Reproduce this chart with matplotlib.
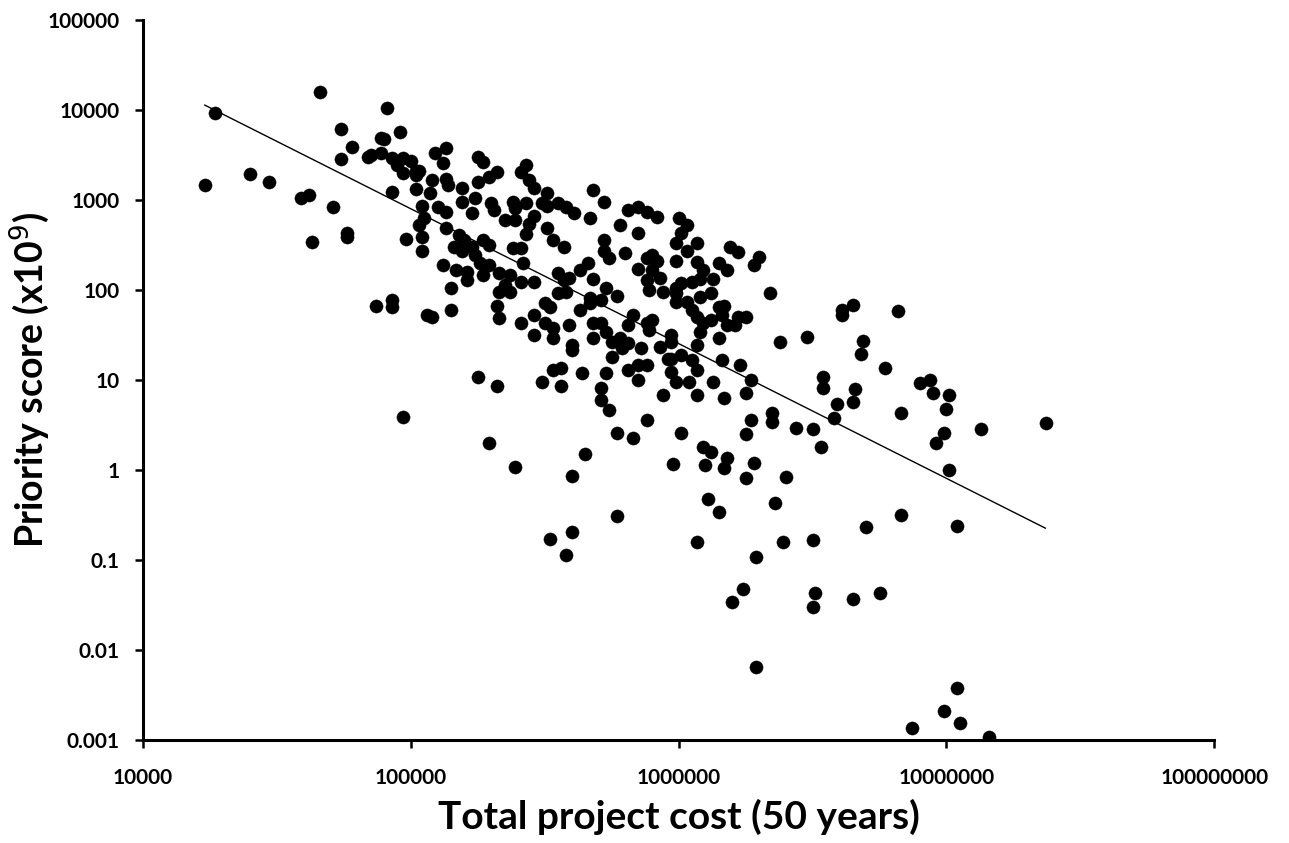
import numpy as np
import matplotlib.pyplot as plt

plt.rcParams['font.family'] = ['Lato', 'DejaVu Sans']

# log10 of total project cost (50 years)
log_cost = [
    4.23, 4.27, 4.40, 4.47, 4.59, 4.62, 4.63, 4.66, 4.71, 4.74, 4.74, 4.76, 4.76, 4.78, 4.84, 4.85, 4.87, 4.89,
    4.90, 4.89, 4.91, 4.93, 4.93, 4.93, 4.93, 4.95, 4.96, 4.97, 4.97, 4.97, 4.98, 5.00, 5.02, 5.02, 5.02,
    5.09, 5.13, 5.12, 5.25, 5.27, 5.03, 5.08, 5.13, 5.14, 5.19, 5.25, 5.29, 5.32, 5.43, 5.41, 5.44, 5.46, 5.68,
    5.72, 5.07, 5.04, 5.10, 5.13, 5.05, 5.19, 5.24, 5.30, 5.31, 5.23, 5.38, 5.39, 5.43, 5.35, 5.39, 5.51, 5.49,
    5.51, 5.55, 5.58, 5.46, 5.44, 5.43, 5.61, 5.67, 5.51, 5.53, 5.57, 5.81, 5.85, 5.88, 5.92, 5.78, 5.85, 5.03,
    5.04, 5.04, 5.13, 5.18, 5.20, 5.16, 5.19, 5.23, 5.27, 5.29, 5.24, 5.38, 5.41, 5.72, 5.72, 5.74, 5.80, 5.88,
    5.90, 5.92, 5.12, 5.17, 5.21, 5.26, 5.29, 5.27, 5.21, 5.15, 5.33, 5.37, 5.41, 5.35, 5.33, 5.37, 5.42, 5.46,
    5.55, 5.57, 5.59, 5.63, 5.66, 5.55, 5.58, 5.68, 5.73, 5.77, 5.85, 5.90, 5.88, 5.93, 5.89, 5.94, 5.67,
    5.06, 5.08, 5.15, 5.32, 5.33, 5.41, 5.46, 5.46, 5.50, 5.52, 5.50, 5.53, 5.53, 5.59, 5.60, 5.60, 5.63, 5.67,
    5.71, 5.68, 5.71, 5.68, 5.73, 5.75, 5.78, 5.79, 5.81, 5.75, 5.83, 5.81, 5.86, 5.88, 5.90, 5.89, 5.93, 5.96,
    5.25, 5.32, 5.49, 5.53, 5.56, 5.56, 5.64, 5.73, 5.71, 5.71, 5.74, 5.81, 5.85, 5.88, 5.85, 5.88, 5.77, 5.83,
    5.29, 5.39, 5.65, 5.60, 5.52, 5.60, 5.58, 5.77, 5.94,
    6.00, 6.03, 6.01, 5.99, 6.07, 6.03, 5.99, 6.07, 6.09, 6.08, 6.05, 6.15, 6.18, 6.13, 6.19, 6.22, 6.30, 6.28,
    6.01, 5.99, 5.99, 5.99, 6.03, 6.05, 6.08, 6.12, 6.07, 6.09, 6.08, 6.12, 6.15, 6.17, 6.16, 6.18, 6.22, 6.25,
    6.21, 6.34, 5.97, 5.97, 6.07, 6.15, 5.97, 6.01, 6.05, 5.97, 5.99, 6.04, 6.07, 6.13, 6.16, 6.23, 6.07, 6.17,
    6.27, 6.25, 6.38, 6.48, 6.61, 6.61, 6.65, 6.82, 6.69, 6.68, 6.77, 6.54, 6.54, 6.66, 6.65, 6.59, 6.58, 6.90,
    6.94, 6.95, 7.01, 7.00, 6.83, 6.35, 6.35, 6.27, 6.44, 6.50, 6.53, 6.01, 6.25, 6.09, 6.12, 5.98, 6.10, 6.18,
    6.17, 6.28, 6.25, 6.40, 6.99, 6.96, 7.13, 7.01, 6.11, 6.15, 6.36, 6.83, 6.70, 7.04, 6.07, 6.39, 6.50, 6.29,
    6.24, 6.20, 6.51, 6.50, 6.65, 6.75, 6.29, 7.04, 6.99, 7.05, 6.87, 7.16, 7.37,
]

# log10 of priority score (x10^9)
log_score = [
    3.17, 3.97, 3.29, 3.20, 3.03, 3.06, 2.54, 4.20, 2.93, 3.79, 3.46, 2.64, 2.59, 3.59, 3.48, 3.50, 1.83, 3.69,
    3.68, 3.53, 4.02, 3.47, 3.09, 1.89, 1.81, 3.39, 3.76, 3.30, 3.47, 0.59, 2.57, 3.44, 3.33, 3.28, 3.13,
    3.53, 3.58, 3.41, 3.48, 3.42, 3.33, 3.22, 3.24, 3.17, 3.14, 3.20, 3.26, 3.31, 3.39, 3.31, 3.22, 3.14, 3.11,
    2.98, 3.08, 2.94, 2.92, 2.87, 2.80, 2.98, 3.03, 2.97, 2.89, 2.86, 2.98, 2.91, 2.97, 2.78, 2.78, 3.08, 2.97,
    2.94, 2.97, 2.92, 2.83, 2.74, 2.63, 2.86, 2.80, 2.69, 2.56, 2.48, 2.89, 2.92, 2.87, 2.81, 2.72, 2.64, 2.72,
    2.59, 2.44, 2.69, 2.61, 2.56, 2.48, 2.44, 2.48, 2.56, 2.50, 2.39, 2.47, 2.47, 2.56, 2.44, 2.36, 2.41, 2.36,
    2.39, 2.33, 2.28, 2.22, 2.20, 2.30, 2.28, 2.17, 2.11, 2.03, 2.19, 2.17, 2.09, 2.06, 1.98, 1.98, 2.30, 2.09,
    2.19, 2.11, 2.14, 2.22, 2.30, 1.97, 1.98, 2.13, 2.03, 1.94, 2.24, 2.22, 2.11, 2.14, 2.00, 1.98, 1.91,
    1.72, 1.70, 1.78, 1.83, 1.69, 1.63, 1.72, 1.50, 1.86, 1.81, 1.64, 1.58, 1.47, 1.61, 1.39, 1.33, 1.78, 1.86,
    1.89, 1.64, 1.64, 1.47, 1.53, 1.42, 1.47, 1.36, 1.41, 1.26, 1.72, 1.61, 1.36, 1.63, 1.67, 1.56, 1.37, 1.24,
    1.03, 0.93, 0.98, 1.11, 1.14, 0.93, 1.08, 1.08, 0.91, 0.78, 0.67, 1.11, 1.17, 1.17, 1.00, 0.56, 0.41, 0.36,
    0.30, 0.04, 0.18, -0.06, -0.76, -0.69, -0.94, -0.51, 0.83,
    2.80, 2.72, 2.64, 2.52, 2.53, 2.44, 2.33, 2.31, 2.22, 2.13, 2.09, 2.30, 2.22, 2.12, 2.48, 2.42, 2.37, 2.28,
    2.08, 2.03, 1.97, 1.87, 1.87, 1.78, 1.92, 1.97, 1.70, 1.63, 1.53, 1.67, 1.81, 1.83, 1.72, 1.61, 1.70, 1.70,
    1.61, 1.97, 1.50, 1.42, 1.39, 1.47, 1.24, 1.28, 1.22, 1.09, 0.98, 0.98, 1.11, 0.98, 1.22, 1.17, 0.83, 0.80,
    1.00, 0.86, 1.42, 1.48, 1.78, 1.72, 1.84, 1.77, 1.44, 1.29, 1.13, 1.03, 0.91, 0.90, 0.76, 0.74, 0.58, 0.97,
    1.00, 0.86, 0.83, 0.68, 0.64, 0.64, 0.53, 0.56, 0.47, 0.46, 0.26, 0.41, 0.40, 0.26, 0.20, 0.07, 0.06, 0.13,
    0.02, 0.08, -0.09, -0.08, 0.41, 0.30, 0.46, 0.00, -0.32, -0.47, -0.36, -0.50, -0.63, -0.62, -0.80, -0.80, -0.78, -0.97,
    -1.32, -1.47, -1.37, -1.52, -1.43, -1.36, -2.19, -2.42, -2.68, -2.81, -2.86, -2.97, 0.52,
]

# power trendline end points
trend_cost = [17000, 23400000]
trend_score = [11400, 0.227]

x_ticks = [1e4, 1e5, 1e6, 1e7, 1e8]
x_tick_labels = ["10000", "100000", "1000000", "10000000", "100000000"]
y_ticks = [1e-3, 1e-2, 1e-1, 1, 10, 100, 1000, 10000, 100000]
y_tick_labels = ["0.001", "0.01", "0.1", "1", "10", "100", "1000", "10000", "100000"]

cost = 10 ** np.array(log_cost)
score = 10 ** np.array(log_score)

fig = plt.figure(figsize=(12.89, 8.43), dpi=100)
ax = fig.add_axes([0.111, 0.122, 0.831, 0.854])

ax.scatter(cost, score, s=90, color='black', edgecolors='black', linewidths=0.3, zorder=3)
ax.plot(trend_cost, trend_score, color='black', lw=1.0, zorder=2)

ax.set_xscale('log')
ax.set_yscale('log')
ax.set_xlim(1e4, 1e8)
ax.set_ylim(1e-3, 1e5)
ax.set_xticks(x_ticks)
ax.set_xticklabels(x_tick_labels)
ax.set_yticks(y_ticks)
ax.set_yticklabels(y_tick_labels)
ax.minorticks_off()

for side in ['top', 'right']:
    ax.spines[side].set_visible(False)
for side in ['left', 'bottom']:
    ax.spines[side].set_linewidth(2.2)
ax.tick_params(axis='both', width=1.8, length=6, labelsize=15)
ax.tick_params(axis='x', pad=14)
ax.tick_params(axis='y', pad=11)
for lbl in ax.get_xticklabels() + ax.get_yticklabels():
    lbl.set_fontweight('bold')

ax.set_xlabel("Total project cost (50 years)", fontsize=28, fontweight='bold', labelpad=8)
ax.set_ylabel("Priority score (x10$^{9}$)", fontsize=27, fontweight='bold')
ax.yaxis.set_label_coords(-0.085, 0.5)

fig.savefig('out.png', dpi=100)
